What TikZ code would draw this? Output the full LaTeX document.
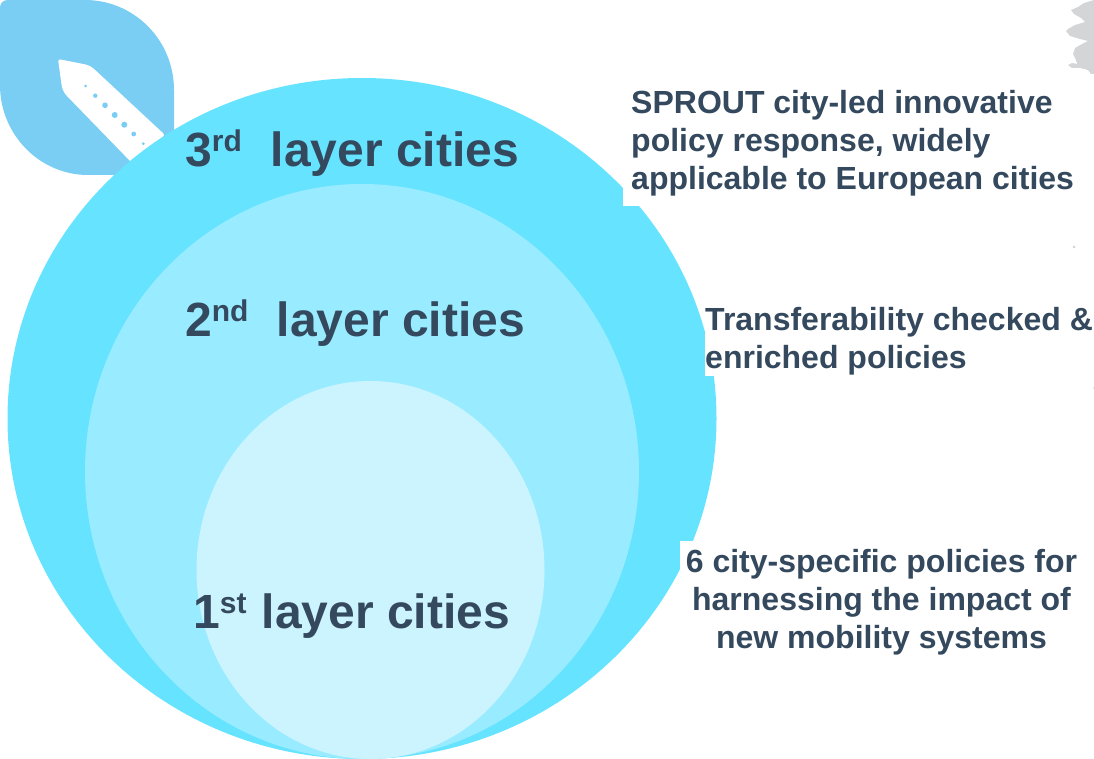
\documentclass[tikz,border=0pt]{standalone}
\usepackage{fontspec}
\setmainfont{Liberation Sans}
\definecolor{outerc}{HTML}{66E3FF}
\definecolor{midc}{HTML}{99EBFF}
\definecolor{innerc}{HTML}{CCF4FF}
\definecolor{leafc}{HTML}{7ACDF3}
\definecolor{inkc}{HTML}{34495E}
\definecolor{mapc}{HTML}{D3D5D7}
\newcommand{\supr}[1]{\raisebox{15pt}{\fontsize{30}{30}\selectfont #1}}
\tikzset{
  layerlabel/.style={font=\fontsize{48}{48}\selectfont\bfseries,text=inkc,anchor=base west,inner sep=0pt},
  notelabel/.style={font=\fontsize{32}{38}\selectfont\bfseries,text=inkc,inner sep=0pt,align=left,anchor=north west},
  mapblob/.style={fill=mapc,draw=none},
  dotc/.style={fill=leafc,draw=none},
  maskbox/.style={fill=white,draw=none}
}
\begin{document}
\begin{tikzpicture}[x=1pt,y=-1pt]
\useasboundingbox (0,0) rectangle (1094,759);
% leaf badge
\fill[leafc] (8,0) -- (85,0) .. controls (134,0) and (174,40) .. (174,90) -- (174,175) -- (88,175) .. controls (40,175) and (0,135) .. (0,85) -- (0,8) .. controls (0,3) and (3,0) .. (8,0) -- cycle;
% pen
\fill[white,rounded corners=2.5pt] (58,59) -- (88,65) -- (93,68) -- (165,135) -- (132,163) -- (65,94) -- (62,88) -- cycle;
\foreach \px/\py/\pr in {85.7/86/1.5,95.3/95.7/2.2,105/105.3/2.8,114.7/115/3,124.3/124.7/3,133.7/134/2.4,143.3/143.7/1.6}
  \fill[dotc] (\px,\py) circle (\pr);
% map fragment
\fill[mapblob] (1094,0) -- (1084,3) -- (1078,7) -- (1071,10) -- (1074,14) -- (1081,18) -- (1085,22) -- (1075,25) -- (1068,29) -- (1066,31) -- (1070,36) -- (1080,39) -- (1088,41) -- (1082,44) -- (1075,48) -- (1073,54) -- (1076,60) -- (1077,64) -- (1072,63) -- (1068,65) -- (1072,68) -- (1080,68) -- (1088,70) -- (1091,74) -- (1094,74) -- cycle;
\fill[mapc] (1074,247) circle (1.5);
\fill[mapc!60] (1093.5,388) circle (1);
% circles
\fill[outerc] (362,418.5) ellipse [x radius=354.5, y radius=340.5];
\fill[midc] (362,471.5) ellipse [x radius=277, y radius=287.5];
\fill[innerc] (370.5,570) ellipse [x radius=174, y radius=189];
% white text backings
\fill[maskbox] (623,80) rectangle (1094,206);
\fill[maskbox] (705,300) rectangle (1094,376);
\fill[maskbox] (680,541) rectangle (1094,660);
% layer labels
\node[layerlabel] (third) at (185,167) {3\supr{rd}\hspace{15.5pt} layer cities};
\node[layerlabel] (second) at (185,336) {2\supr{nd}\hspace{15pt} layer cities};
\node[layerlabel] (first) at (193,628) {1\supr{st}\hspace{2pt} layer cities};
% notes
\node[notelabel] (notea) at (631,90) {SPROUT city-led innovative\\policy response, widely\\applicable to European cities};
\node[notelabel] (noteb) at (705,307) {Transferability checked \&\\enriched policies};
\node[notelabel,align=center,anchor=north] (notec) at (881.5,549) {6 city-specific policies for\\harnessing the impact of\\new mobility systems};
\end{tikzpicture}
\end{document}
